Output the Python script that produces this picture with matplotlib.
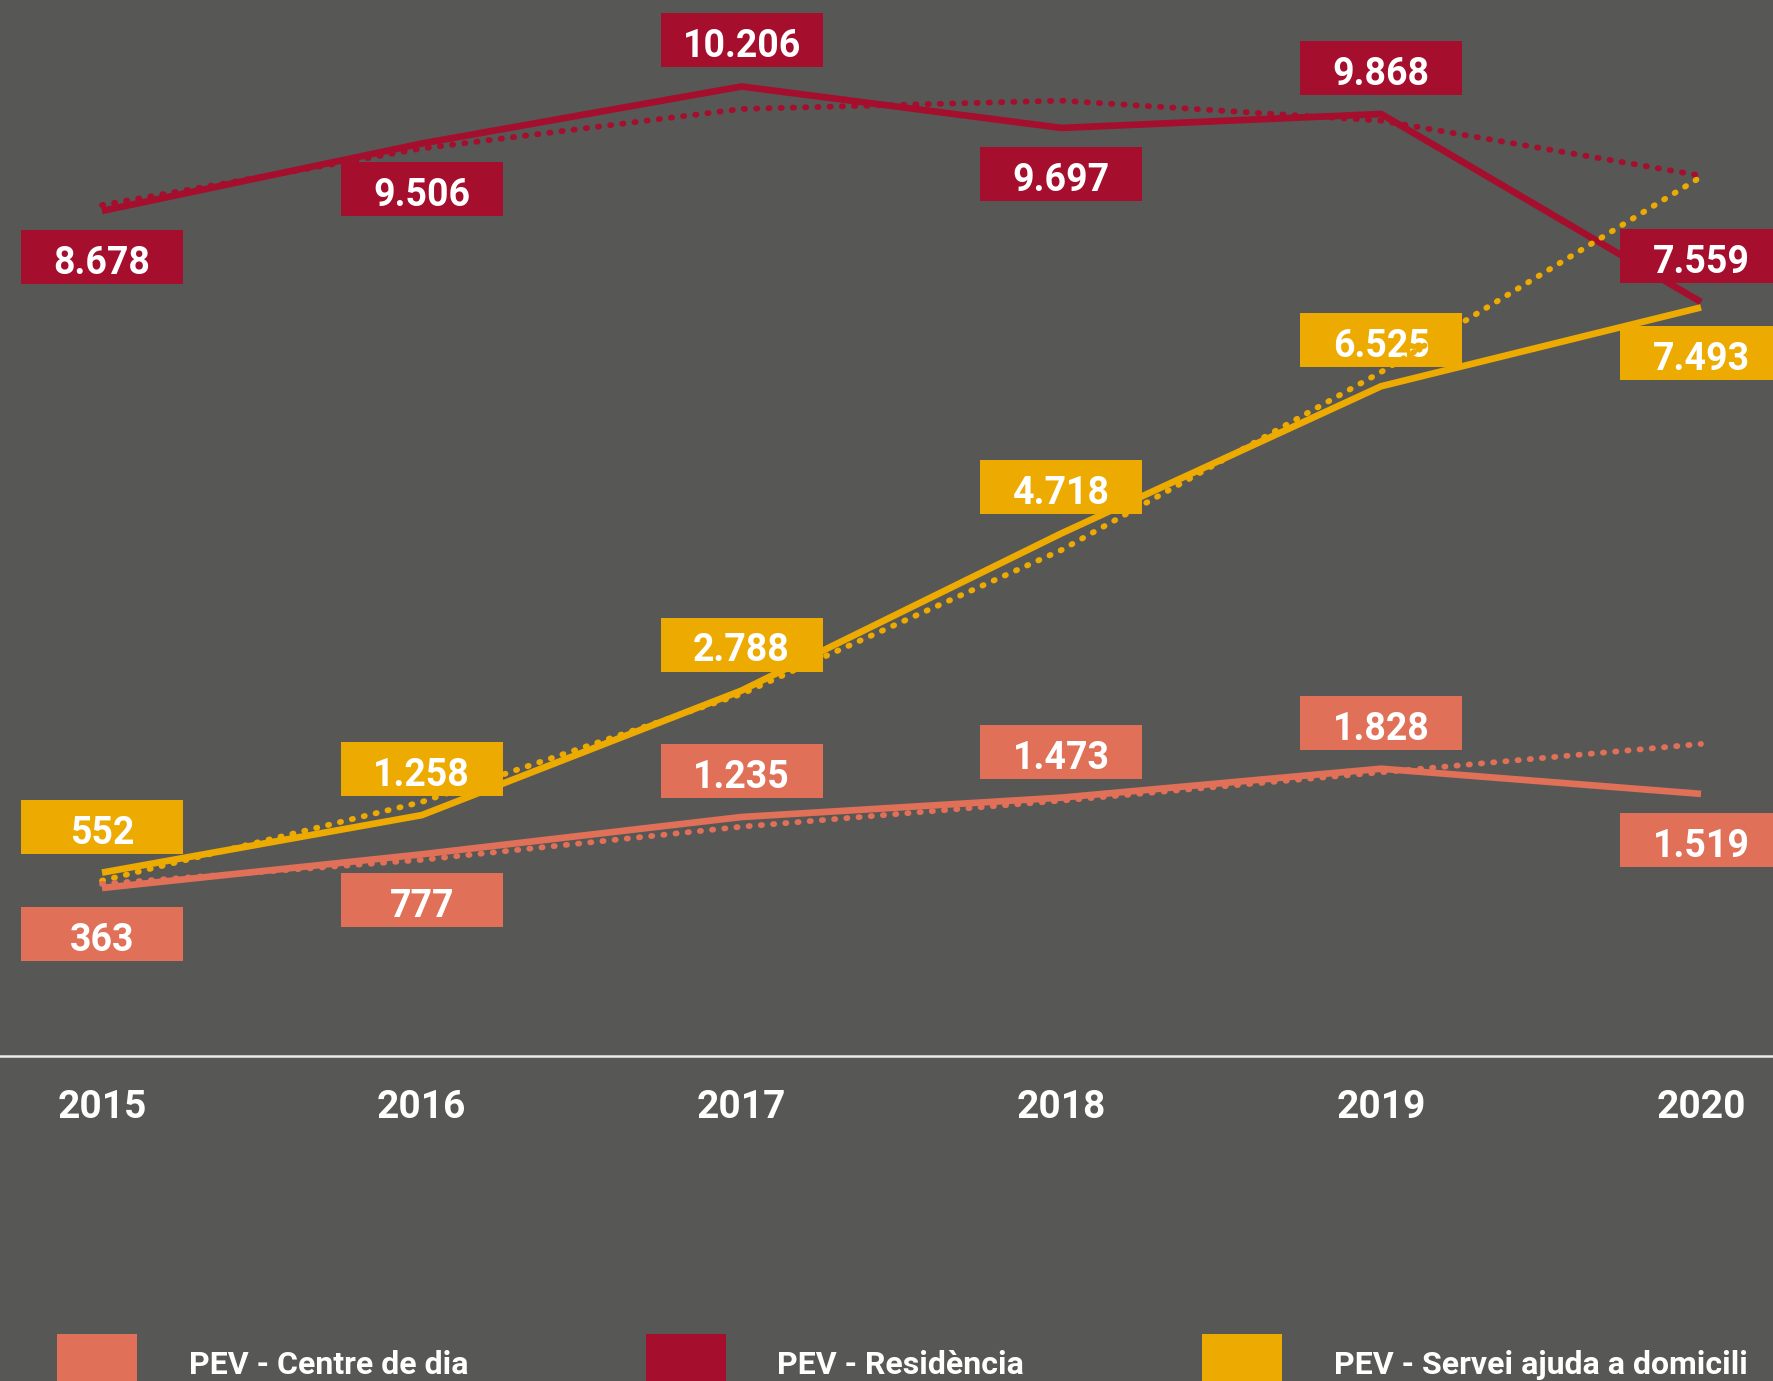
"""Line chart: PEV beneficiaries by service, 2015-2020, with trend lines."""

import matplotlib

matplotlib.use("Agg")
import matplotlib.pyplot as plt
from matplotlib.patches import Rectangle

years = [2015, 2016, 2017, 2018, 2019, 2020]

centre_dia = [363, 777, 1235, 1473, 1828, 1519]
residencia = [8678, 9506, 10206, 9697, 9868, 7559]
domicili = [552, 1258, 2788, 4718, 6525, 7493]

# dotted trend lines
centre_dia_trend = [413, 709, 1116, 1436, 1784, 2132]
residencia_trend = [8750, 9445, 9930, 10032, 9786, 9111]
domicili_trend = [453, 1420, 2746, 4513, 6700, 9095]

# +1 label box above the point, -1 below
centre_dia_pos = [-1, -1, 1, 1, 1, -1]
residencia_pos = [-1, -1, 1, -1, 1, 1]
domicili_pos = [1, 1, 1, 1, 1, -1]

legend_labels = ["PEV - Centre de dia", "PEV - Residència", "PEV - Servei ajuda a domicili"]

BG = "#575755"
C_DIA = "#E07058"
C_RES = "#A50E2D"
C_DOM = "#EDAA00"

W, H = 1773, 1381
BASE = 1056  # pixel row of the white base line
X0, DX = 102, 319.8  # pixel column of 2015, pixels per year
Y_TOP, Y_BOT = 11268, -1700


def fmt(v):
    return f"{v:,}".replace(",", ".")


def main():
    plt.rcParams["font.family"] = ["Roboto", "DejaVu Sans"]
    fig = plt.figure(figsize=(W / 100, H / 100), dpi=100, facecolor=BG)
    ax = fig.add_axes([0, 1 - BASE / H, 1, BASE / H])
    ax.set_facecolor(BG)
    ax.set_xlim(years[0] - X0 / DX, years[0] + (W - X0) / DX)
    ax.set_ylim(Y_BOT, Y_TOP)
    for s in ["top", "left", "right"]:
        ax.spines[s].set_visible(False)
    ax.spines["bottom"].set_color("#ececec")
    ax.spines["bottom"].set_linewidth(1.8)
    ax.set_xticks([])
    ax.set_yticks([])

    px_unit = BASE / (Y_TOP - Y_BOT)
    off = 46 / px_unit
    bw, bh = 162 / DX, 54 / px_unit

    series = [
        (residencia, residencia_trend, residencia_pos, C_RES),
        (domicili, domicili_trend, domicili_pos, C_DOM),
        (centre_dia, centre_dia_trend, centre_dia_pos, C_DIA),
    ]
    for vals, trend, pos, col in series:
        ax.plot(years, vals, color=col, lw=4.8, solid_capstyle="butt", solid_joinstyle="miter", zorder=2)
    for vals, trend, pos, col in series:
        for x, v, p in zip(years, vals, pos):
            cy = v + p * off
            ax.add_patch(Rectangle((x - bw / 2, cy - bh / 2), bw, bh, facecolor=col, edgecolor="none", zorder=3))
            ax.text(x, cy - 30, fmt(v), ha="center", va="center_baseline", color="white",
                    fontsize=27, fontweight="bold", zorder=4)
    for vals, trend, pos, col in series:
        ax.plot(years, trend, color=col, lw=4.2, linestyle=(0, (0.2, 1.9)),
                dash_capstyle="round", zorder=5)

    for x in years:
        ax.text(x, -(1104 - BASE) / BASE, str(x), transform=ax.get_xaxis_transform(),
                ha="center", va="center_baseline", color="white", fontsize=28, fontweight="bold")

    # legend along the bottom edge
    for lx, tx, lab, col in zip([57, 646, 1202], [189, 777, 1334], legend_labels, [C_DIA, C_RES, C_DOM]):
        fig.patches.append(Rectangle((lx / W, 0), 80 / W, (H - 1334) / H, transform=fig.transFigure,
                                     facecolor=col, edgecolor="none"))
        fig.text(tx / W, 1 - 1362 / H, lab, ha="left", va="center_baseline", color="white",
                 fontsize=23, fontweight="bold")

    fig.savefig("out.png", dpi=100, facecolor=BG)
    plt.close(fig)


if __name__ == "__main__":
    main()
